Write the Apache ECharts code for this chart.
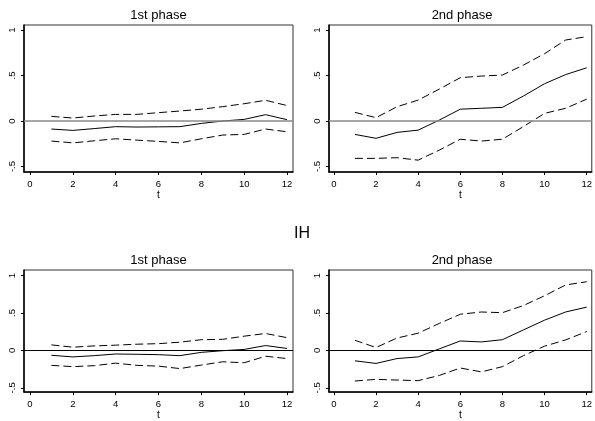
<!DOCTYPE html>
<html>
<head>
<meta charset="utf-8">
<script src="https://cdn.jsdelivr.net/npm/echarts@6/dist/echarts.min.js"></script>
<style>
html,body{margin:0;padding:0;background:#fff;}
#c{width:595px;height:421px;}
</style>
</head>
<body>
<div id="c"></div>
<script>
// horizon
var t = [1, 2, 3, 4, 5, 6, 7, 8, 9, 10, 11, 12];
var xTicks = [0, 2, 4, 6, 8, 10, 12];
var yTicks = [-0.5, 0, 0.5, 1];

// top row, 1st phase
var top1Irf = [-0.088, -0.103, -0.083, -0.062, -0.066, -0.064, -0.062, -0.026, 0.0, 0.018, 0.07, 0.015];
var top1Up  = [0.051, 0.033, 0.055, 0.073, 0.073, 0.092, 0.11, 0.13, 0.158, 0.19, 0.228, 0.17];
var top1Lo  = [-0.22, -0.24, -0.217, -0.195, -0.21, -0.224, -0.24, -0.195, -0.154, -0.147, -0.088, -0.118];
// top row, 2nd phase
var top2Irf = [-0.147, -0.19, -0.125, -0.10, 0.01, 0.13, 0.14, 0.15, 0.275, 0.41, 0.51, 0.585];
var top2Up  = [0.095, 0.037, 0.157, 0.23, 0.35, 0.476, 0.494, 0.505, 0.615, 0.74, 0.89, 0.927];
var top2Lo  = [-0.41, -0.41, -0.403, -0.43, -0.32, -0.20, -0.22, -0.20, -0.06, 0.084, 0.14, 0.24];
// bottom row (IH), 1st phase
var bot1Irf = [-0.065, -0.087, -0.07, -0.048, -0.052, -0.057, -0.07, -0.026, -0.004, 0.013, 0.065, 0.026];
var bot1Up  = [0.074, 0.043, 0.06, 0.07, 0.083, 0.09, 0.11, 0.143, 0.148, 0.19, 0.226, 0.17];
var bot1Lo  = [-0.2, -0.217, -0.204, -0.17, -0.2, -0.21, -0.243, -0.196, -0.152, -0.165, -0.078, -0.109];
// bottom row (IH), 2nd phase
var bot2Irf = [-0.139, -0.174, -0.109, -0.087, 0.02, 0.126, 0.113, 0.143, 0.274, 0.404, 0.513, 0.578];
var bot2Up  = [0.135, 0.039, 0.165, 0.23, 0.36, 0.483, 0.513, 0.504, 0.6, 0.73, 0.874, 0.917];
var bot2Lo  = [-0.409, -0.387, -0.396, -0.404, -0.335, -0.235, -0.287, -0.217, -0.07, 0.057, 0.14, 0.252];

var panelTitles = ['1st phase', '2nd phase', '1st phase', '2nd phase'];
var rowTitle = 'IH';

var FONT = 'Liberation Sans, Arial, Helvetica, sans-serif';

var grids = [
  {left: 24, top: 25, width: 269, height: 147},
  {left: 329, top: 25, width: 266, height: 147},
  {left: 24, top: 270, width: 269, height: 125},
  {left: 329, top: 270, width: 266, height: 125}
];
var xRanges = [[-0.28, 12.28], [-0.23, 12.24], [-0.28, 12.28], [-0.23, 12.24]];
var yRanges = [[-0.56, 1.055], [-0.56, 1.055], [-0.557, 1.074], [-0.557, 1.074]];
var panelData = [
  [top1Irf, top1Up, top1Lo],
  [top2Irf, top2Up, top2Lo],
  [bot1Irf, bot1Up, bot1Lo],
  [bot2Irf, bot2Up, bot2Lo]
];
var zeroStyles = [
  {color: '#8a8a8a', width: 1.6},
  {color: '#8a8a8a', width: 1.6},
  {color: '#000', width: 1},
  {color: '#000', width: 1}
];

function pairs(vals) { return t.map(function (x, i) { return [x, vals[i]]; }); }
function yfmt(v) {
  if (Math.abs(v) < 1e-9) return '0';
  var s = String(v);
  return s.replace('0.', '.');
}

var option = {
  animation: false,
  backgroundColor: '#fff',
  title: [],
  grid: [],
  xAxis: [],
  yAxis: [],
  series: []
};

grids.forEach(function (g, i) {
  option.grid.push({
    left: g.left, top: g.top, width: g.width, height: g.height,
    show: true, borderColor: '#333', borderWidth: 1, backgroundColor: '#fff'
  });
  option.title.push({
    text: panelTitles[i],
    left: g.left + g.width / 2, top: g.top - 16,
    textAlign: 'center', padding: 0,
    textStyle: {fontFamily: FONT, fontSize: 13, fontWeight: 'normal', color: '#000'}
  });
  option.xAxis.push({
    type: 'value', gridIndex: i, min: xRanges[i][0], max: xRanges[i][1],
    name: 't', nameLocation: 'middle', nameGap: 14,
    nameTextStyle: {fontFamily: FONT, fontSize: 10, color: '#000'},
    axisLine: {show: true, onZero: false, lineStyle: {color: '#000', width: 1.5}},
    axisTick: {show: true, length: 3, customValues: xTicks, lineStyle: {color: '#000', width: 1}},
    axisLabel: {show: true, customValues: xTicks, margin: 7, fontFamily: FONT, fontSize: 9.5, color: '#000'},
    splitLine: {show: false}
  });
  option.yAxis.push({
    type: 'value', gridIndex: i, min: yRanges[i][0], max: yRanges[i][1],
    axisLine: {show: true, onZero: false, lineStyle: {color: '#000', width: 1.5}},
    axisTick: {show: true, length: 3, customValues: yTicks, lineStyle: {color: '#000', width: 1}},
    axisLabel: {show: true, customValues: yTicks, rotate: 90, margin: 7, fontFamily: FONT, fontSize: 9.5, color: '#000', formatter: yfmt},
    splitLine: {show: false}
  });
  var d = panelData[i];
  option.series.push({
    type: 'line', xAxisIndex: i, yAxisIndex: i, data: pairs(d[0]),
    showSymbol: false, symbol: 'none', z: 3,
    lineStyle: {color: '#000', width: 1, type: 'solid'},
    markLine: {
      silent: true, symbol: ['none', 'none'], label: {show: false},
      lineStyle: {color: zeroStyles[i].color, width: zeroStyles[i].width, type: 'solid'},
      data: [{yAxis: 0}]
    }
  });
  option.series.push({
    type: 'line', xAxisIndex: i, yAxisIndex: i, data: pairs(d[1]),
    showSymbol: false, symbol: 'none', z: 3,
    lineStyle: {color: '#000', width: 1, type: [8, 4]}
  });
  option.series.push({
    type: 'line', xAxisIndex: i, yAxisIndex: i, data: pairs(d[2]),
    showSymbol: false, symbol: 'none', z: 3,
    lineStyle: {color: '#000', width: 1, type: [8, 4]}
  });
});

option.title.push({
  text: rowTitle, left: 302, top: 226, textAlign: 'center', padding: 0,
  textStyle: {fontFamily: FONT, fontSize: 16, fontWeight: 'normal', color: '#000'}
});

var chart = echarts.init(document.getElementById('c'), null, {renderer: 'canvas'});
chart.setOption(option);
</script>
</body>
</html>
